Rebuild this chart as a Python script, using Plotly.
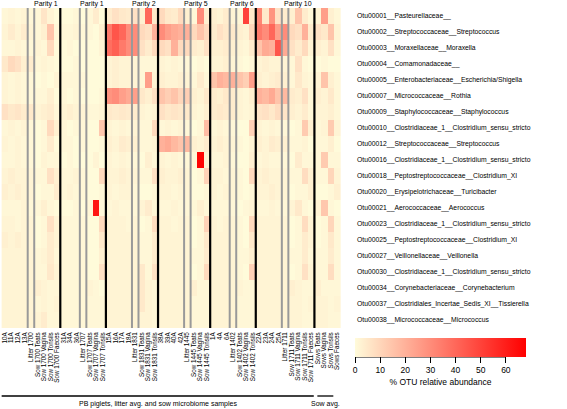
import plotly.graph_objects as go

# ---------------- data ----------------
group_parity = ["Parity 1", "Parity 1", "Parity 2", "Parity 5", "Parity 6", "Parity 10", ""]
group_sizes = [9, 7, 8, 8, 7, 9, 4]
litter_index = [4, 12, 20, 28, 35, 43]   # litter-average column of each litter group

sample_labels = [
    "10A", "11A", "12A", "13A", "Litter 1700", "Sow 1700 Teats", "Sow 1700 Vagina", "Sow 1700 Tonsils", "Sow 1700 Faeces",
    "31A", "34A", "36A", "Litter 1707", "Sow 1707 Teats", "Sow 1707 Vagina", "Sow 1707 Tonsils",
    "15A", "16A", "17A", "18A", "Litter 1831", "Sow 1831 Teats", "Sow 1831 Vagina", "Sow 1831 Tonsils",
    "38A", "39A", "40A", "42A", "Litter 1445", "Sow 1445 Teats", "Sow 1445 Vagina", "Sow 1445 Tonsils",
    "1A", "4A", "6A", "Litter 1402", "Sow 1402 Teats", "Sow 1402 Vagina", "Sow 1402 Tonsils",
    "22A", "23A", "24A", "25A", "Litter 1711", "Sow 1711 Teats", "Sow 1711 Vagina", "Sow 1711 Tonsils", "Sow 1711 Faeces",
    "Sows Teats", "Sows Vagina", "Sows Tonsils", "Sows Faeces",
]

otu_labels = [
    "Otu00001__Pasteurellaceae__",
    "Otu00002__Streptococcaceae__Streptococcus",
    "Otu00003__Moraxellaceae__Moraxella",
    "Otu00004__Comamonadaceae__",
    "Otu00005__Enterobacteriaceae__Escherichia/Shigella",
    "Otu00007__Micrococcaceae__Rothia",
    "Otu00009__Staphylococcaceae__Staphylococcus",
    "Otu00010__Clostridiaceae_1__Clostridium_sensu_stricto",
    "Otu00012__Streptococcaceae__Streptococcus",
    "Otu00016__Clostridiaceae_1__Clostridium_sensu_stricto",
    "Otu00018__Peptostreptococcaceae__Clostridium_XI",
    "Otu00020__Erysipelotrichaceae__Turicibacter",
    "Otu00021__Aerococcaceae__Aerococcus",
    "Otu00023__Clostridiaceae_1__Clostridium_sensu_stricto",
    "Otu00025__Peptostreptococcaceae__Clostridium_XI",
    "Otu00027__Veillonellaceae__Veillonella",
    "Otu00030__Clostridiaceae_1__Clostridium_sensu_stricto",
    "Otu00034__Corynebacteriaceae__Corynebacterium",
    "Otu00037__Clostridiales_Incertae_Sedis_XI__Tissierella",
    "Otu00038__Micrococcaceae__Micrococcus",
]

# % OTU relative abundance per sample (52 columns each)
otu00001 = [1,2,1,2,1,1,6,2,0, 0,0,1,0,1,4,0, 4,7,5,4,7,3,40,5, 9,5,4,9,3,1,30,3, 3,2,4,2,1,50,5, 32,5,28,7,4,3,15,4,1, 2,25,3,1]
otu00002 = [2,4,2,4,2,1,3,15,1, 1,1,2,1,1,0,3, 35,45,40,30,30,9,7,20, 30,25,22,20,20,9,15,9, 4,7,5,5,3,2,10, 35,30,40,25,30,9,7,20,4, 7,5,15,2]
otu00003 = [1,1,2,1,1,2,1,9,0, 0,1,0,0,0,0,2, 38,42,35,30,30,7,4,9, 9,7,20,9,9,4,3,7, 3,3,4,3,2,1,4, 15,22,20,45,22,7,4,9,2, 3,2,7,1]
otu00004 = [5,9,7,3,4,1,2,1,0, 0,0,1,0,0,0,0, 2,3,2,2,2,1,1,1, 2,1,2,1,1,0,1,0, 2,2,3,2,1,0,1, 2,3,2,2,2,1,7,1,0, 0,1,0,0]
otu00005 = [2,1,2,1,1,0,1,0,2, 1,1,1,1,0,0,0, 2,3,2,2,2,1,25,2, 3,2,2,3,2,1,4,1, 15,20,18,20,15,12,25, 3,2,3,4,3,1,5,2,1, 2,15,3,1]
otu00007 = [2,1,2,1,1,1,1,3,0, 1,0,1,0,0,0,1, 28,30,25,22,25,5,3,7, 15,12,15,10,12,3,2,5, 4,3,5,4,2,1,3, 20,18,22,15,18,4,3,7,1, 3,2,5,1]
otu00009 = [7,5,6,4,5,2,3,4,1, 2,3,2,2,1,1,2, 5,4,5,4,4,2,1,2, 7,5,6,5,5,2,1,3, 4,5,4,4,2,1,2, 6,7,5,8,6,3,2,4,1, 2,2,3,1]
otu00010 = [1,2,1,2,1,0,1,9,3, 1,0,1,1,0,0,14, 2,1,2,1,2,1,1,9, 1,2,1,2,1,0,1,17, 1,2,1,1,0,0,11, 2,1,2,1,1,0,1,13,3, 1,2,13,2]
otu00012 = [2,1,2,1,1,0,1,4,0, 1,1,0,1,0,0,1, 3,2,4,3,3,1,1,2, 20,22,18,15,18,3,2,4, 2,3,2,2,1,0,2, 3,2,4,3,3,1,1,2,0, 1,1,3,0]
otu00016 = [1,1,2,1,1,0,2,1,1, 0,1,0,0,0,2,0, 2,1,2,1,1,0,3,1, 2,1,2,1,1,1,67,2, 1,1,2,1,0,0,3, 1,2,1,1,1,0,4,1,1, 1,13,1,1]
otu00018 = [2,3,2,2,2,1,1,7,3, 1,1,2,1,0,0,9, 2,2,3,2,2,1,1,7, 3,2,2,3,2,0,1,11, 2,2,1,2,1,0,9, 2,3,2,2,2,1,1,8,3, 1,1,10,2]
otu00020 = [3,2,3,2,2,0,1,1,4, 1,2,1,1,0,0,1, 2,1,2,2,1,0,0,1, 2,2,1,2,2,0,0,1, 2,1,2,2,1,0,1, 2,2,3,2,2,0,1,1,3, 0,0,1,3]
otu00021 = [1,1,1,2,1,1,3,1,0, 0,0,1,0,1,62,1, 1,2,1,1,1,2,4,1, 1,1,2,1,1,1,3,1, 1,1,1,1,0,1,2, 1,1,2,1,1,2,5,1,0, 2,14,1,0]
otu00023 = [2,2,1,2,2,0,1,7,2, 1,1,1,1,0,0,9, 2,2,2,1,2,0,1,8, 2,2,1,2,2,0,1,11, 2,1,2,2,1,0,9, 2,2,2,2,2,0,1,8,2, 0,1,10,1]
otu00025 = [3,2,3,2,2,0,1,4,2, 1,1,1,1,0,0,5, 2,2,2,2,2,1,1,4, 2,2,2,2,2,0,1,5, 2,2,2,2,1,0,5, 2,2,2,2,2,0,1,4,2, 0,1,5,1]
otu00027 = [2,2,2,2,2,1,2,4,1, 1,1,1,1,0,0,3, 2,2,2,2,2,1,1,4, 2,2,2,2,2,1,1,4, 2,2,2,2,1,1,3, 2,2,2,2,2,1,1,4,1, 1,1,4,1]
otu00030 = [2,2,2,2,2,1,1,5,2, 1,1,1,1,0,0,7, 2,2,2,2,2,5,1,7, 2,2,2,2,2,0,1,9, 2,2,2,2,1,0,11, 2,2,2,2,2,0,1,7,2, 1,1,8,1]
otu00034 = [2,2,2,2,2,3,2,1,1, 1,1,1,1,2,1,0, 2,2,2,2,2,5,2,1, 2,2,2,2,2,3,1,1, 2,2,2,2,2,1,1, 2,2,2,2,2,3,2,1,1, 3,1,1,1]
otu00037 = [2,2,2,2,2,1,2,1,2, 1,1,1,1,1,1,1, 2,2,2,2,2,5,2,1, 2,2,2,2,2,1,1,1, 2,2,2,2,1,1,1, 2,2,2,2,2,2,2,1,2, 2,2,1,2]
otu00038 = [2,2,2,2,2,2,4,1,1, 1,1,1,1,1,1,1, 2,2,2,2,2,2,2,1, 2,2,2,2,2,1,1,1, 2,2,2,2,1,1,1, 2,2,2,2,2,2,2,1,1, 2,2,1,1]

abundance = [otu00001, otu00002, otu00003, otu00004, otu00005, otu00007, otu00009, otu00010,
             otu00012, otu00016, otu00018, otu00020, otu00021, otu00023, otu00025, otu00027,
             otu00030, otu00034, otu00037, otu00038]
assert all(len(r) == len(sample_labels) for r in abundance)

z_max = 68
colorbar_ticks = [0, 10, 20, 30, 40, 50, 60]

# ---------------- figure ----------------
FONT = "Liberation Sans, Arial, Helvetica, sans-serif"
W, H = 567, 409
ML, MR, MT, MB = 1, 226, 8, 81
plot_w = W - ML - MR
plot_h = H - MT - MB
bottom_px = H - MB

cb_left_px, cb_len_px, cb_thick_px, cb_top_px = 355, 171, 19, 338
cb_x = (cb_left_px - ML) / plot_w
cb_y = (bottom_px - cb_top_px) / plot_h

fig = go.Figure(go.Heatmap(
    z=abundance, x=sample_labels, y=otu_labels,
    zmin=0, zmax=z_max,
    colorscale=[[0, "#FFFBDA"], [1, "#FF0000"]],
    colorbar=dict(
        orientation="h", x=cb_x, xanchor="left", y=cb_y, yanchor="top",
        len=cb_len_px, lenmode="pixels", thickness=cb_thick_px, thicknessmode="pixels",
        xpad=0, ypad=0, outlinewidth=0,
        tickvals=colorbar_ticks, ticks="outside", ticklen=6, tickwidth=1, tickcolor="black",
        tickfont=dict(size=8.5, family=FONT, color="black"),
        title=dict(text="% OTU relative abundance", side="bottom",
                   font=dict(size=8.5, family=FONT, color="black")),
    ),
))

shapes = []
# grey lines around each litter-average column
for li in litter_index:
    for xb in (li - 0.5, li + 0.5):
        shapes.append(dict(type="line", xref="x", yref="paper", x0=xb, x1=xb, y0=0, y1=1,
                           line=dict(color="#999999", width=2)))
# black lines between groups + parity labels
annotations = []
edge = -0.5
bounds = []
for size in group_sizes:
    bounds.append((edge, edge + size))
    edge += size
for (a, b), par in zip(bounds[:-1], group_parity[:-1]):
    shapes.append(dict(type="line", xref="x", yref="paper", x0=b, x1=b, y0=0, y1=1,
                       line=dict(color="black", width=2.2)))
    annotations.append(dict(text=par, xref="x", yref="paper", x=b, y=1.0, xanchor="right",
                            yanchor="middle", showarrow=False, yshift=4,
                            font=dict(size=7, family=FONT, color="black")))

# colorbar axis line (0 .. 60)
cb_bottom_y = (bottom_px - (cb_top_px + cb_thick_px)) / plot_h
px_per_unit = cb_len_px / z_max / plot_w
shapes.append(dict(type="line", xref="paper", yref="paper",
                   x0=cb_x + colorbar_ticks[0] * px_per_unit, x1=cb_x + colorbar_ticks[-1] * px_per_unit,
                   y0=cb_bottom_y, y1=cb_bottom_y, line=dict(color="black", width=1)))

# bottom group brackets
line_y = (bottom_px - 396) / plot_h
text_y = (bottom_px - 409) / plot_h
pb_end = bounds[-2][1]
shapes.append(dict(type="line", xref="x", yref="paper", x0=-0.5, x1=pb_end - 0.1, y0=line_y, y1=line_y,
                   line=dict(color="black", width=1.3)))
shapes.append(dict(type="line", xref="x", yref="paper", x0=pb_end + 0.45, x1=pb_end + 2.9, y0=line_y, y1=line_y,
                   line=dict(color="black", width=1.3)))
annotations.append(dict(text="PB piglets, litter avg. and sow microbiome samples", xref="x", yref="paper",
                        x=(pb_end - 0.5) / 2, y=text_y, showarrow=False, yanchor="bottom",
                        borderpad=0, font=dict(size=7, family=FONT, color="black")))
annotations.append(dict(text="Sow avg.", xref="x", yref="paper",
                        x=pb_end + 1.7, y=text_y, showarrow=False, yanchor="bottom",
                        borderpad=0, font=dict(size=7, family=FONT, color="black")))

fig.update_layout(
    width=W, height=H,
    margin=dict(l=ML, r=MR, t=MT, b=MB, pad=0, autoexpand=False),
    paper_bgcolor="white", plot_bgcolor="white",
    font=dict(family=FONT, color="black"),
    shapes=shapes, annotations=annotations,
    xaxis=dict(tickmode="array", tickvals=sample_labels, ticktext=sample_labels,
               tickangle=-90, tickfont=dict(size=6.3, family=FONT, color="black"),
               ticks="", showgrid=False, zeroline=False, showline=False,
               automargin=False, ticklabelstandoff=2),
    yaxis=dict(side="right", autorange="reversed", tickfont=dict(size=6.8, family=FONT, color="black"),
               ticks="", showgrid=False, zeroline=False, showline=False,
               automargin=False, ticklabelstandoff=15),
)

# remove the default page margin so the 567x409 figure fills the window exactly
fig.write_html("out.html", config={"displayModeBar": False},
               post_script="document.body.style.margin='0';document.body.style.overflow='hidden';")
